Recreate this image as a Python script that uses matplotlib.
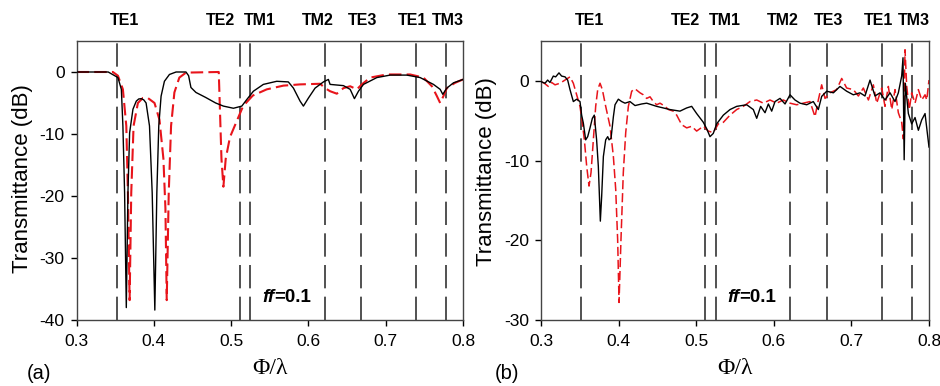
import numpy as np
import matplotlib
matplotlib.use("Agg")
import matplotlib.pyplot as plt

plt.rcParams['font.family'] = ['Liberation Sans', 'DejaVu Sans']
plt.rcParams['axes.unicode_minus'] = False

# mode cut-off positions (same in both panels)
mode_names = ["TE1", "TE2", "TM1", "TM2", "TE3", "TE1", "TM3"]
mode_pos = [0.352, 0.512, 0.525, 0.621, 0.668, 0.739, 0.778]

# (a) simulation, black solid
a_blk_x = [0.300, 0.330, 0.341, 0.3536, 0.358, 0.360, 0.3622, 0.3644, 0.3665, 0.3687,
           0.373, 0.3773, 0.3805, 0.3837, 0.387, 0.390, 0.3944, 0.3979, 0.4013, 0.4039,
           0.4064, 0.4094, 0.4137, 0.4202, 0.4288, 0.4416, 0.445, 0.448, 0.4545, 0.467,
           0.480, 0.490, 0.503, 0.5138, 0.5202, 0.5288, 0.5417, 0.559, 0.574, 0.5806,
           0.5892, 0.5935, 0.600, 0.6086, 0.6194, 0.6258, 0.628, 0.6453, 0.654, 0.6595,
           0.6647, 0.6712, 0.6885, 0.7057, 0.7273, 0.7445, 0.7617, 0.7704, 0.7738, 0.779,
           0.7876, 0.800]
a_blk_y = [0.0, 0.0, 0.0, -0.9, -2.8, -8.7, -19.5, -38.0, -19.5, -9.8,
           -6.0, -4.7, -4.35, -4.3, -4.5, -5.0, -8.7, -19.5, -38.4, -19.5,
           -8.7, -3.9, -1.5, -0.4, 0.0, 0.0, -0.6, -2.5, -3.3, -4.1,
           -5.0, -5.5, -5.85, -5.5, -4.45, -3.1, -2.0, -1.5, -1.6, -2.6,
           -4.7, -5.5, -4.2, -2.6, -1.6, -1.2, -2.0, -2.2, -2.8, -4.3,
           -3.1, -2.0, -0.9, -0.5, -0.5, -0.9, -2.0, -2.8, -3.6, -2.6,
           -1.75, -1.2]

# (a) simulation, red dashed
a_red_x = [0.300, 0.347, 0.3536, 0.360, 0.3644, 0.3665, 0.3687, 0.3708, 0.3738, 0.3794,
           0.3858, 0.3923, 0.4009, 0.4073, 0.4124, 0.415, 0.4167, 0.4193, 0.4223, 0.4266,
           0.433, 0.4416, 0.484, 0.4855, 0.4875, 0.490, 0.493, 0.4985, 0.507, 0.5155,
           0.528, 0.5461, 0.5676, 0.5892, 0.6151, 0.6216, 0.628, 0.6367, 0.6453, 0.654,
           0.6626, 0.6691, 0.6799, 0.7014, 0.7316, 0.7488, 0.7597, 0.7662, 0.7704, 0.7746,
           0.779, 0.7897, 0.800]
a_red_y = [0.0, 0.0, -0.6, -2.8, -8.7, -19.5, -36.8, -19.5, -8.7, -5.0,
           -4.2, -4.2, -5.0, -7.7, -14.0, -22.0, -36.8, -19.5, -8.7, -3.3,
           -0.9, -0.1, 0.0, -6.0, -14.0, -18.5, -14.0, -10.5, -8.0, -5.5,
           -3.8, -2.8, -2.2, -2.0, -1.9, -2.6, -3.1, -3.5, -2.6, -2.3,
           -2.8, -2.0, -0.9, -0.4, -0.4, -0.9, -2.3, -3.9, -5.0, -3.9,
           -2.6, -1.75, -1.2]

# (b) measurement, black solid
b_blk_x = [0.300, 0.3052, 0.3086, 0.3116, 0.3159, 0.3189, 0.3232, 0.3266, 0.331, 0.3344,
           0.3374, 0.3417, 0.346, 0.3503, 0.3524, 0.3546, 0.3576, 0.3602, 0.3632, 0.3662,
           0.3687, 0.3717, 0.3739, 0.3765, 0.3782, 0.3804, 0.3834, 0.386, 0.3877, 0.3903,
           0.3933, 0.3954, 0.3997, 0.404, 0.4083, 0.4147, 0.4212, 0.4298, 0.4362, 0.4491,
           0.4662, 0.4791, 0.4877, 0.4942, 0.5006, 0.5092, 0.5135, 0.5178, 0.522, 0.5264,
           0.535, 0.5436, 0.5522, 0.5651, 0.5736, 0.578, 0.5831, 0.5887, 0.593, 0.5973,
           0.6016, 0.608, 0.6145, 0.6209, 0.6273, 0.6338, 0.6424, 0.6509, 0.6574, 0.6617,
           0.6682, 0.6768, 0.6853, 0.6939, 0.7025, 0.7111, 0.7175, 0.724, 0.7304, 0.7369,
           0.7433, 0.7498, 0.7562, 0.7605, 0.7648, 0.7665, 0.768, 0.7695, 0.7734, 0.7777,
           0.782, 0.7863, 0.7906, 0.7949, 0.7979, 0.800]
b_blk_y = [-0.1, -0.3, 0.1, -0.2, 0.6, 0.5, 1.0, 0.6, 0.5, 0.1,
           -1.1, -2.6, -2.3, -2.6, -4.3, -5.3, -7.4, -7.0, -5.9, -4.7,
           -4.3, -7.4, -10.7, -17.6, -14.5, -9.5, -7.4, -7.0, -7.4, -7.2,
           -4.5, -3.0, -2.3, -2.6, -2.8, -2.6, -3.1, -2.9, -2.8, -3.2,
           -3.6, -3.8, -3.4, -3.2, -4.1, -5.2, -6.0, -7.0, -6.6, -5.4,
           -4.3, -3.6, -3.2, -3.0, -3.6, -4.7, -3.2, -4.0, -2.9, -3.8,
           -2.6, -2.2, -2.9, -1.75, -2.4, -2.8, -3.0, -2.6, -3.6, -1.95,
           -1.3, -1.5, -0.7, -1.3, -1.75, -1.5, -1.9, 0.1, -1.9, -1.5,
           -2.4, -1.5, -2.6, -1.5, 0.6, 2.9, -9.9, -0.3, -4.1, -5.4,
           -4.6, -6.2, -4.9, -4.1, -6.6, -8.3]

# (b) measurement, red dashed
b_red_x = [0.300, 0.3043, 0.3095, 0.3138, 0.3181, 0.3245, 0.331, 0.3374, 0.3417, 0.346,
           0.3503, 0.3533, 0.3559, 0.3589, 0.3619, 0.3645, 0.3675, 0.3705, 0.3731, 0.3761,
           0.3791, 0.3834, 0.389, 0.3933, 0.3963, 0.3988, 0.4006, 0.4031, 0.4061, 0.4092,
           0.4126, 0.4169, 0.4212, 0.4276, 0.4319, 0.4362, 0.4405, 0.4448, 0.4491, 0.4534,
           0.4599, 0.4642, 0.4706, 0.4749, 0.4813, 0.4878, 0.4942, 0.5006, 0.5092, 0.5156,
           0.522, 0.5285, 0.535, 0.5436, 0.5522, 0.5607, 0.5693, 0.578, 0.5865, 0.5951,
           0.6037, 0.6123, 0.6209, 0.6295, 0.638, 0.6467, 0.6531, 0.6574, 0.6617, 0.666,
           0.6724, 0.681, 0.6875, 0.6939, 0.7025, 0.709, 0.7154, 0.7219, 0.7283, 0.7326,
           0.7391, 0.7433, 0.7476, 0.752, 0.7562, 0.7605, 0.7648, 0.767, 0.7691, 0.7713,
           0.7746, 0.7777, 0.782, 0.7863, 0.7906, 0.7949, 0.7971, 0.800]
b_red_y = [-0.1, -0.3, -0.7, -0.2, -0.5, -0.3, 0.1, 0.5, -0.3, -1.75,
           -3.2, -5.3, -7.4, -10.7, -13.2, -11.5, -7.4, -3.2, -1.1, -0.3,
           -1.1, -3.2, -5.7, -9.5, -13.6, -19.9, -27.8, -19.9, -11.5, -6.5,
           -3.2, -1.3, -1.0, -1.5, -1.75, -2.2, -2.0, -2.6, -3.0, -2.8,
           -3.2, -3.6, -3.8, -4.3, -5.5, -5.9, -5.7, -6.3, -5.7, -6.3,
           -6.5, -5.4, -5.2, -4.3, -3.6, -3.2, -2.6, -2.4, -2.8, -2.4,
           -2.8, -2.4, -2.8, -3.0, -2.8, -2.6, -4.5, -2.4, -0.5, -2.2,
           -1.5, -1.1, 0.3, -0.9, -1.1, -1.9, -0.9, -2.4, -0.5, -2.8,
           -0.9, -3.2, -0.7, -3.6, -1.1, -4.0, -5.2, -7.3, 3.9, -0.7,
           -3.6, -1.5, -2.8, -1.1, -2.4, -1.75, -2.4, 0.1]

panels = [
    dict(rect=[0.0814, 0.171, 0.4112, 0.7228], blk=(a_blk_x, a_blk_y), red=(a_red_x, a_red_y),
         ylim=(-40, 5), yticks=[0, -10, -20, -30, -40], tag="(a)", red_dash=(6, 2.5), red_lw=1.5,
         ylab=(-0.113, 0.507), tag_x=-0.128),
    dict(rect=[0.5755, 0.171, 0.4128, 0.7228], blk=(b_blk_x, b_blk_y), red=(b_red_x, b_red_y),
         ylim=(-30, 5), yticks=[0, -10, -20, -30], tag="(b)", red_dash=(6, 2.5), red_lw=1.1,
         ylab=(-0.113, 0.532), tag_x=-0.119),
]

# small horizontal nudges of the mode labels relative to their lines
label_shift = [0.010, -0.026, 0.012, -0.009, 0.002, -0.004, 0.003]

fig = plt.figure(figsize=(9.4, 3.86), dpi=100)

for p in panels:
    ax = fig.add_axes(p["rect"])
    for xm in mode_pos:
        ax.axvline(xm, color="#333333", lw=1.2, dashes=(14, 5), zorder=1)
    ax.plot(*p["blk"], color="black", lw=1.0, zorder=3)
    ax.plot(*p["red"], color="#e8141b", lw=p["red_lw"], dashes=p["red_dash"], zorder=2)

    ax.set_xlim(0.3, 0.8)
    ax.set_ylim(*p["ylim"])
    ax.set_xticks([0.3, 0.4, 0.5, 0.6, 0.7, 0.8])
    ax.set_xticklabels(["0.3", "0.4", "0.5", "0.6", "0.7", "0.8"])
    ax.set_yticks(p["yticks"])
    ax.tick_params(direction="out", length=4.5, width=1, labelsize=12.5, top=False, right=False)
    ax.tick_params(axis="y", pad=4)
    ax.tick_params(axis="x", pad=5.5)
    for s in ax.spines.values():
        s.set_color("#444444")
        s.set_linewidth(1.0)

    ax.set_ylabel("Transmittance (dB)", fontsize=16)
    ax.yaxis.set_label_coords(*p["ylab"])
    ax.set_xlabel("Φ/λ", fontsize=17, family="Liberation Serif")
    ax.xaxis.set_label_coords(0.5, -0.135)

    for name, xm, dx in zip(mode_names, mode_pos, label_shift):
        ax.text(xm + dx, 1.075, name, transform=ax.get_xaxis_transform(),
                ha="center", va="center", fontsize=11.5, fontweight="bold")

    tr = ax.get_xaxis_transform()
    ax.text(0.556, 0.079, "ff", transform=tr, ha="right", va="center",
            fontsize=13.5, fontweight="bold", style="italic")
    ax.text(0.556, 0.079, "=0.1", transform=tr, ha="left", va="center",
            fontsize=13.5, fontweight="bold")
    ax.text(p["tag_x"], -0.19, p["tag"], transform=ax.transAxes, fontsize=14.5,
            ha="left", va="center")

fig.savefig("out.png", dpi=100)
